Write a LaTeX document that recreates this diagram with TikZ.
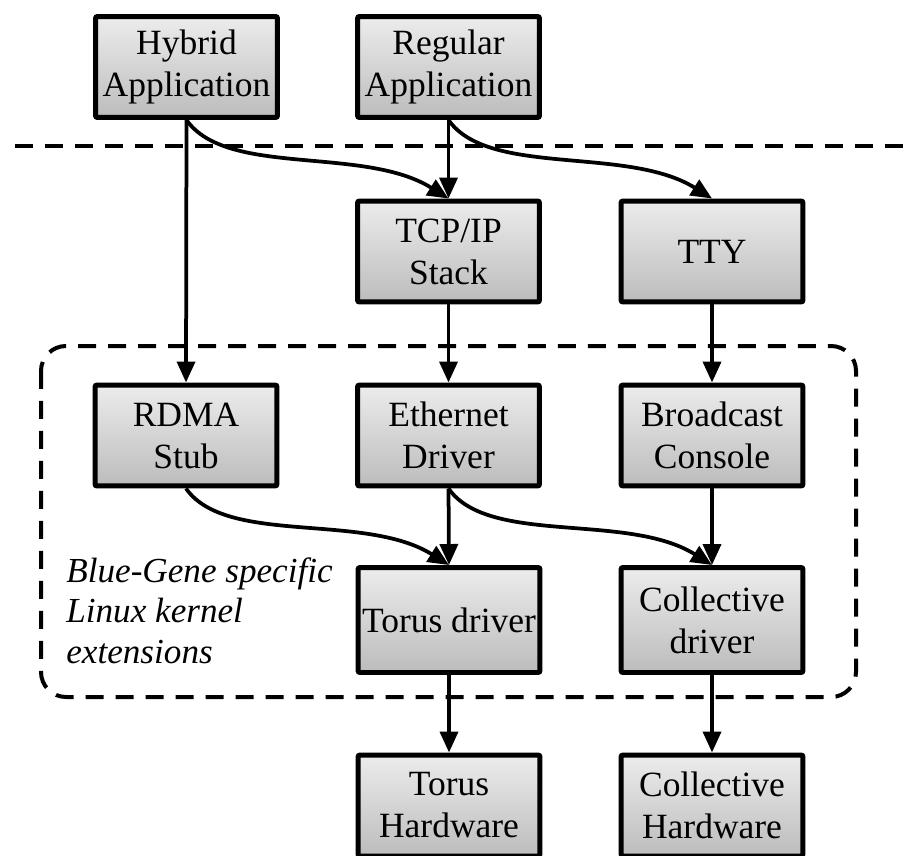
\documentclass[tikz,border=0pt]{standalone}
\usepackage{fontspec}
\setmainfont{Liberation Serif}
\usetikzlibrary{arrows.meta}

\definecolor{boxtop}{RGB}{236,236,236}
\definecolor{boxbot}{RGB}{188,188,188}

\tikzset{
    layer/.style={draw, line width=0.1cm, rounded corners=0.04cm,
        top color=boxtop, bottom color=boxbot,
        minimum width=3.64cm, minimum height=2.02cm, inner sep=0pt,
        align=center, font=\fontsize{20.2}{23.9}\selectfont},
    tall/.style={minimum height=2.1cm},
    link/.style={line width=0.075cm, -{Triangle[length=0.42cm,width=0.36cm]}},
    swing/.style={out=-55, in=148, out distance=1.4cm, in distance=2cm},
    border/.style={line width=0.08cm, dash pattern=on 0.36cm off 0.24cm},
    note/.style={inner sep=0pt, align=left,
        font=\fontsize{20}{23}\selectfont\itshape},
}

\begin{document}
\begin{tikzpicture}[x=0.02cm, y=-0.02cm]
    \useasboundingbox (0,0) rectangle (905,855);
    % user space / kernel split and the BG extensions group
    \draw[border] (15,146) -- (905,146);
    \draw[border, rounded corners=0.5cm] (41,346) rectangle (856,697);

    \node[layer] (hyb) at (186.5,67) {Hybrid\\Application};
    \node[layer] (reg) at (448.5,67) {Regular\\Application};
    \node[layer] (tcp) at (448.5,251.5) {TCP/IP\\Stack};
    \node[layer] (tty) at (712,251.5) {TTY};
    \node[layer] (rdma) at (186,435.5) {RDMA\\Stub};
    \node[layer] (eth) at (448.5,435.5) {Ethernet\\Driver};
    \node[layer] (bcast) at (712,435.5) {Broadcast\\Console};
    \node[layer, tall] (torus) at (449,620) {Torus driver};
    \node[layer, tall] (coll) at (712,620) {Collective\\driver};
    \node[layer] (torushw) at (449,805.5) {Torus\\Hardware};
    \node[layer] (collhw) at (712,805.5) {Collective\\Hardware};

    \node[note, anchor=base west] (ext) at (66,663)
        {Blue-Gene specific\\Linux kernel\\extensions};

    \foreach \a/\b in {hyb/rdma, reg/tcp, tcp/eth, tty/bcast,
        eth/torus, bcast/coll, torus/torushw, coll/collhw}{
        \draw[link] (\a.south) -- (\b.north);
      }
    \foreach \a/\b in {hyb/tcp, reg/tty, rdma/torus, eth/coll}{
        \draw[link] (\a.south) to[swing] (\b.north);
      }
  \end{tikzpicture}
\end{document}
